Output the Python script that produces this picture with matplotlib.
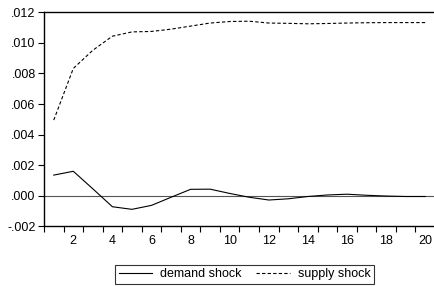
import matplotlib
matplotlib.use("Agg")
import matplotlib.pyplot as plt
from matplotlib.ticker import FuncFormatter, FixedLocator

plt.rcParams['font.family'] = ['Liberation Sans', 'DejaVu Sans']

periods = list(range(1, 21))
demand_shock = [0.00135, 0.0016, 0.00045, -0.00072, -0.00089, -0.00063, -0.0001,
                0.00042, 0.00043, 0.00015, -0.0001, -0.00028, -0.0002, -0.00005,
                0.00005, 0.0001, 0.00003, -0.00002, -0.00005, -0.00005]
supply_shock = [0.00495, 0.00833, 0.00952, 0.01044, 0.01072, 0.01075, 0.0109,
                0.0111, 0.0113, 0.0114, 0.01142, 0.0113, 0.01128, 0.01125,
                0.01127, 0.0113, 0.01132, 0.01133, 0.01133, 0.01133]
y_ticks = [-0.002, 0.0, 0.002, 0.004, 0.006, 0.008, 0.010, 0.012]
x_labels = list(range(2, 21, 2))

fig = plt.figure(figsize=(4.35, 2.87), dpi=100)
ax = fig.add_axes([0.1011, 0.2115, 0.8989, 0.7455])

ax.axhline(0, color='#555555', lw=0.8, zorder=1)
ax.plot(periods, demand_shock, color='black', lw=0.8, label='demand shock')
ax.plot(periods, supply_shock, color='black', lw=0.8, dashes=(3, 2), label='supply shock')

ax.set_xlim(0.5, 20.5)
ax.set_ylim(-0.002, 0.012)
ax.set_yticks(y_ticks)
ax.yaxis.set_major_formatter(FuncFormatter(lambda v, p: ('-' if v < -1e-9 else '') + ('%.3f' % abs(v))[1:]))
ax.set_xticks(x_labels)
ax.set_xticklabels([str(v) for v in x_labels])
ax.xaxis.set_minor_locator(FixedLocator([i + 0.5 for i in range(0, 21)]))
ax.tick_params(axis='x', which='major', length=0, pad=6, labelsize=9)
ax.tick_params(axis='x', which='minor', length=4, width=0.8, direction='out')
ax.tick_params(axis='y', length=4, width=0.8, direction='out', pad=2, labelsize=9)
ax.spines['right'].set_visible(False)
for s in ['left', 'top', 'bottom']:
    ax.spines[s].set_linewidth(1.0)

leg = fig.legend(loc='center', bbox_to_anchor=(0.562, 0.0436), ncol=2, fontsize=9,
                 handlelength=2.7, handletextpad=0.6, columnspacing=1.2,
                 frameon=True, fancybox=False, edgecolor='black', borderpad=0.3)
leg.get_frame().set_linewidth(0.8)

fig.savefig('out.png', dpi=100)
